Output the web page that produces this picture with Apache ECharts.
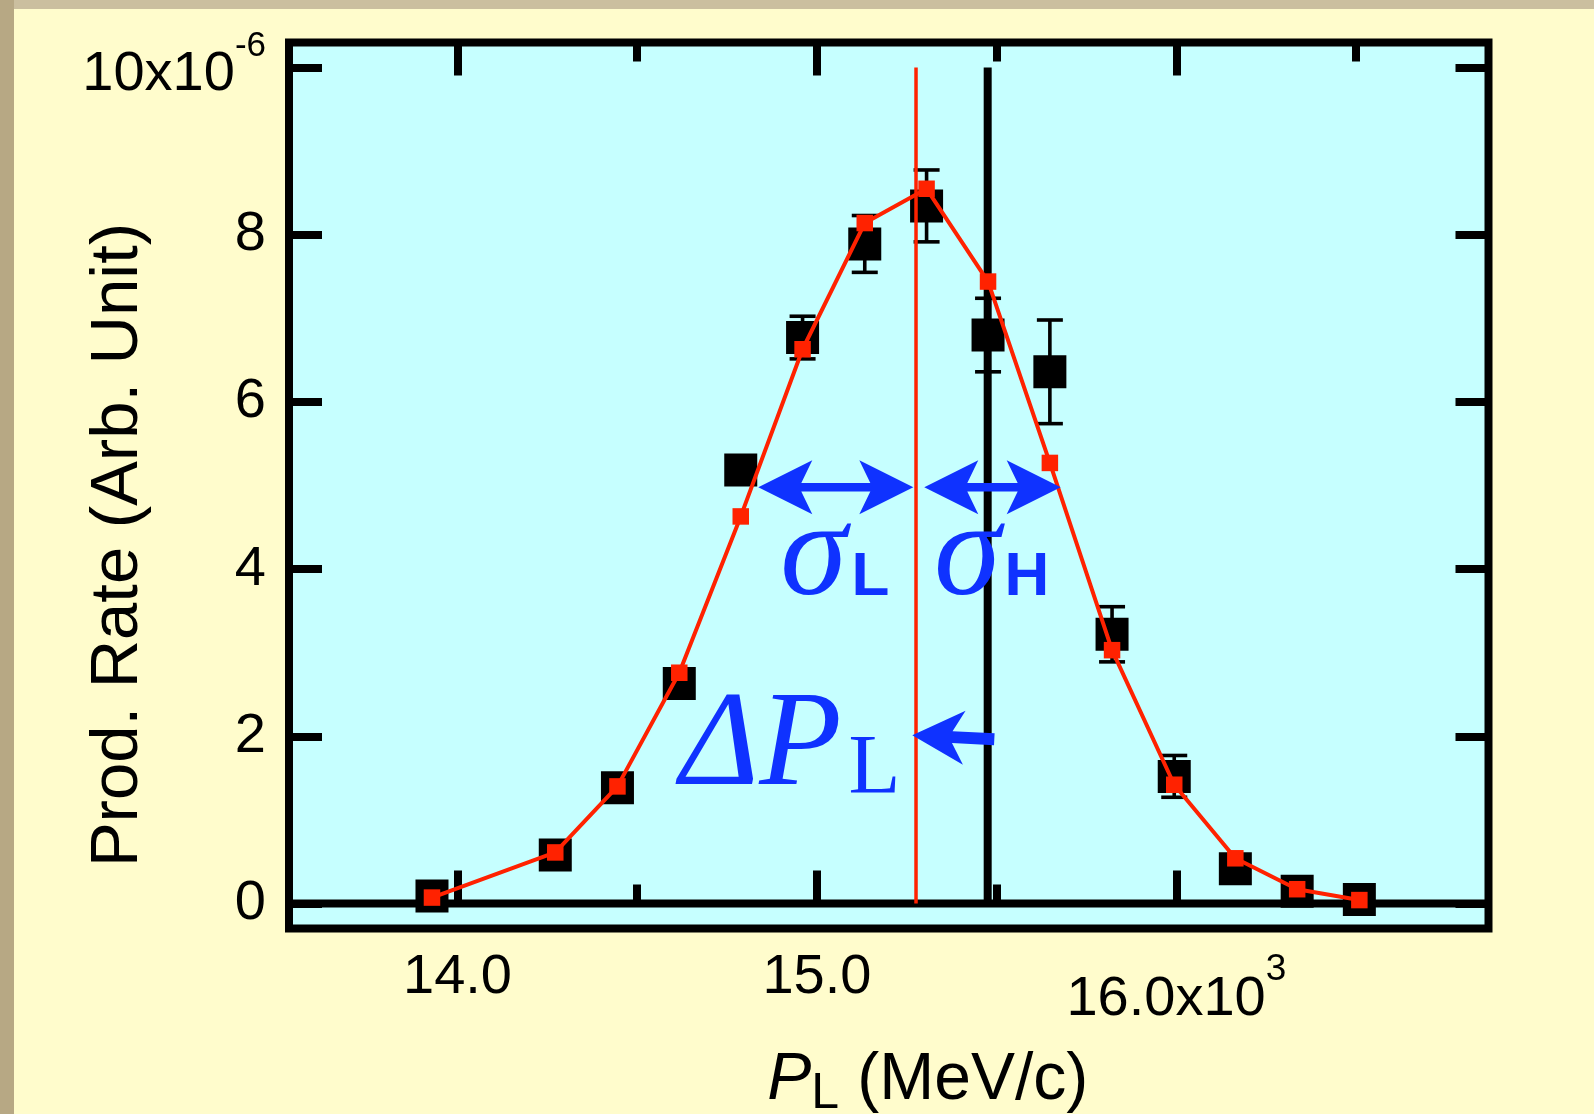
<!DOCTYPE html>
<html>
<head>
<meta charset="utf-8">
<title>Production rate vs longitudinal momentum</title>
<script src="https://cdn.jsdelivr.net/npm/echarts@6/dist/echarts.min.js"></script>
<style>
  html, body { margin: 0; padding: 0; background: #fffccc; }
  #chart { width: 1594px; height: 1114px; }
</style>
</head>
<body>
<div id="chart"></div>
<script>
// Longitudinal momentum of each bin (x10^3 MeV/c)
const momentum = [13.929, 14.272, 14.445, 14.617, 14.788, 14.960, 15.133, 15.305,
                  15.476, 15.648, 15.821, 15.994, 16.164, 16.336, 16.509];
// Measured production rate (x10^-6) and its uncertainty
const measuredRate  = [0.09, 0.58, 1.385, 2.63, 5.185, 6.77, 7.89, 8.345,
                       6.80, 6.36, 3.22, 1.52, 0.415, 0.146, 0.047];
const measuredError = [0.03, 0.06, 0.09, 0.12, 0.15, 0.255, 0.34, 0.43,
                       0.44, 0.62, 0.33, 0.25, 0.08, 0.05, 0.03];
// Calculated production rate (x10^-6)
const calculatedRate = [0.07, 0.61, 1.40, 2.76, 4.63, 6.63, 8.14, 8.55,
                        7.44, 5.27, 3.03, 1.42, 0.54, 0.17, 0.04];

// Peak of the calculated distribution and the central momentum
const peakMomentum = 15.2756;
const centralMomentum = 15.475;

// Axis ranges and ticks
const xRange = [13.5312, 16.8683];
const yRange = [-0.3, 10.3];
const xMajorTicks = [14, 15, 16];
const xMinorTicks = [14.5, 15.5, 16.5];
const yTicks = [0, 2, 4, 6, 8, 10];

// Widths sigma_L / sigma_H and shift Delta P_L (tail, tip, number of heads)
const arrowX1 = [14.8368, 15.2986, 15.4934];
const arrowY1 = [4.978, 4.978, 1.965];
const arrowX2 = [15.2681, 15.6781, 15.2653];
const arrowY2 = [4.978, 4.978, 2.013];
const arrowHeads = [2, 2, 1];

// Annotation symbols
const noteText = ['σ', 'L', 'σ', 'H', 'ΔP', 'L'];
const noteX = [14.8977, 15.0961, 15.3256, 15.5218, 14.619, 15.0877];
const noteY = [4.126, 3.896, 4.126, 3.896, 1.85, 1.594];
const noteKind = ['greek', 'subBold', 'greek', 'subBold', 'greek', 'subSerif'];

const SANS = "'Liberation Sans', Arial, Helvetica, sans-serif";
const SERIF = "'Liberation Serif', 'Times New Roman', Times, serif";
const RED = '#ff2200';
const BLUE = '#0f32ff';

const noteStyles = {
  greek:    { fontFamily: SERIF, fontStyle: 'italic', fontWeight: 'normal', fontSize: 135 },
  subBold:  { fontFamily: SANS,  fontStyle: 'normal', fontWeight: 'bold',   fontSize: 62 },
  subSerif: { fontFamily: SERIF, fontStyle: 'normal', fontWeight: 'normal', fontSize: 85 }
};

function tickAxis(position, values, length, extra) {
  const isX = position === 'top' || position === 'bottom';
  return Object.assign({
    type: 'value',
    position: position,
    min: isX ? xRange[0] : yRange[0],
    max: isX ? xRange[1] : yRange[1],
    axisLine: { show: false },
    splitLine: { show: false },
    axisTick: {
      show: true, inside: true, length: length, customValues: values,
      lineStyle: { color: '#000', width: 8 }
    },
    axisLabel: { show: false }
  }, extra || {});
}

// Build a filled arrow outline from tail a to tip b (pixel space)
function arrowPoints(a, b, heads, headLen, halfW, notch, shaftW) {
  const dx = b[0] - a[0], dy = b[1] - a[1];
  const len = Math.hypot(dx, dy);
  const ux = dx / len, uy = dy / len, nx = -uy, ny = ux;
  const P = (base, along, across) => [base[0] + ux * along + nx * across,
                                      base[1] + uy * along + ny * across];
  const s = shaftW / 2;
  const pts = [];
  if (heads === 2) {
    pts.push(a, P(a, headLen, halfW), P(a, headLen - notch, s));
  } else {
    pts.push(P(a, 0, s));
  }
  pts.push(P(b, -(headLen - notch), s), P(b, -headLen, halfW), b,
           P(b, -headLen, -halfW), P(b, -(headLen - notch), -s));
  if (heads === 2) {
    pts.push(P(a, headLen - notch, -s), P(a, headLen, -halfW));
  } else {
    pts.push(P(a, 0, -s));
  }
  return pts;
}

const chart = echarts.init(document.getElementById('chart'), null, { renderer: 'canvas' });

const option = {
  animation: false,
  backgroundColor: '#fffccc',
  graphic: [
    { type: 'rect', left: 0, top: 0, shape: { width: 1594, height: 9 },
      style: { fill: '#cbbf9f' }, silent: true },
    { type: 'rect', left: 0, top: 0, shape: { width: 14, height: 1114 },
      style: { fill: '#b7a884' }, silent: true }
  ],
  grid: {
    left: 289, right: 105.5, top: 42.5, bottom: 185.5,
    show: true, backgroundColor: '#c6ffff', borderColor: '#000', borderWidth: 8,
    containLabel: false, outerBoundsMode: 'none'
  },
  xAxis: [
    tickAxis('bottom', xMajorTicks, 33, {
      axisLabel: {
        show: true, customValues: xMajorTicks, margin: 21,
        color: '#000', fontFamily: SANS, fontSize: 56,
        formatter: v => v === 16 ? '{b|16.0x10}{sup|3}' : '{a|' + v.toFixed(1) + '}',
        rich: {
          a: { fontFamily: SANS, fontSize: 56, height: 56, lineHeight: 56, color: '#000' },
          b: { fontFamily: SANS, fontSize: 56, height: 56, lineHeight: 78, color: '#000', verticalAlign: 'bottom' },
          sup: { fontFamily: SANS, fontSize: 37, height: 40, lineHeight: 40, color: '#000', verticalAlign: 'top' }
        }
      },
      name: '{i|P}{s|L}{n| (MeV/c)}',
      nameLocation: 'middle',
      nameGap: 119,
      nameMoveOverlap: false,
      nameTextStyle: {
        color: '#000', fontFamily: SANS, fontSize: 66, padding: [0, 0, 0, 78],
        rich: {
          i: { fontFamily: SANS, fontStyle: 'italic', fontSize: 66, height: 66, lineHeight: 66, color: '#000', verticalAlign: 'top' },
          s: { fontFamily: SANS, fontSize: 50, height: 50, lineHeight: 50, color: '#000', verticalAlign: 'top', padding: [22, 0, 0, 0] },
          n: { fontFamily: SANS, fontSize: 66, height: 66, lineHeight: 66, color: '#000', verticalAlign: 'top' }
        }
      }
    }),
    tickAxis('bottom', xMinorTicks, 19),
    tickAxis('top', xMajorTicks, 33),
    tickAxis('top', xMinorTicks, 19)
  ],
  yAxis: [
    tickAxis('left', yTicks, 33, {
      axisLabel: {
        show: true, customValues: yTicks, margin: 23,
        color: '#000', fontFamily: SANS, fontSize: 56,
        formatter: v => v === 10 ? '{b|10x10}{sup|-6}' : '{a|' + v + '}',
        rich: {
          a: { fontFamily: SANS, fontSize: 56, height: 56, lineHeight: 56, color: '#000' },
          b: { fontFamily: SANS, fontSize: 56, height: 56, lineHeight: 69.6, color: '#000', verticalAlign: 'bottom' },
          sup: { fontFamily: SANS, fontSize: 35, height: 28, lineHeight: 28, color: '#000', verticalAlign: 'top' }
        }
      },
      name: 'Prod. Rate (Arb. Unit)',
      nameLocation: 'middle',
      nameRotate: 90,
      nameGap: 136.5,
      nameMoveOverlap: false,
      nameTextStyle: {
        color: '#000', fontFamily: SANS, fontSize: 67, lineHeight: 67, padding: [0, 119, 0, 0]
      }
    }),
    tickAxis('right', yTicks, 33)
  ],
  series: [
    {
      name: 'zero', type: 'line', z: 1, silent: true, symbol: 'none',
      data: [[xRange[0], 0], [xRange[1], 0]],
      lineStyle: { color: '#000', width: 8 }
    },
    {
      name: 'central momentum', type: 'line', z: 2, silent: true, symbol: 'none',
      data: [[centralMomentum, 0], [centralMomentum, 10]],
      lineStyle: { color: '#000', width: 8 }
    },
    {
      name: 'measured', type: 'scatter', z: 3, symbol: 'rect', symbolSize: 33,
      itemStyle: { color: '#000', opacity: 1 },
      data: momentum.map((m, i) => [m, measuredRate[i]])
    },
    {
      name: 'error', type: 'custom', z: 3, silent: true,
      data: momentum.map((m, i) => [m, measuredRate[i], measuredError[i]]),
      renderItem: function (params, api) {
        const x = api.value(0), y = api.value(1), e = api.value(2);
        const top = api.coord([x, y + e]);
        const bot = api.coord([x, y - e]);
        const hw = 13;
        const st = { stroke: '#000', lineWidth: 3.6 };
        return {
          type: 'group',
          children: [
            { type: 'line', shape: { x1: top[0], y1: top[1], x2: bot[0], y2: bot[1] }, style: st },
            { type: 'line', shape: { x1: top[0] - hw, y1: top[1], x2: top[0] + hw, y2: top[1] }, style: st },
            { type: 'line', shape: { x1: bot[0] - hw, y1: bot[1], x2: bot[0] + hw, y2: bot[1] }, style: st }
          ]
        };
      }
    },
    {
      name: 'peak', type: 'line', z: 4, silent: true, symbol: 'none',
      data: [[peakMomentum, 0], [peakMomentum, 10]],
      lineStyle: { color: RED, width: 3.5 }
    },
    {
      name: 'calculated', type: 'line', z: 5, symbol: 'rect', symbolSize: 16.5,
      showSymbol: true, showAllSymbol: true,
      lineStyle: { color: RED, width: 4 },
      itemStyle: { color: RED, opacity: 1 },
      data: momentum.map((m, i) => [m, calculatedRate[i]])
    },
    {
      name: 'arrows', type: 'custom', z: 6, silent: true,
      data: arrowX1.map((x, i) => [x, arrowY1[i], arrowX2[i], arrowY2[i], arrowHeads[i]]),
      renderItem: function (params, api) {
        const a = api.coord([api.value(0), api.value(1)]);
        const b = api.coord([api.value(2), api.value(3)]);
        const heads = api.value(4);
        const pts = heads === 2
          ? arrowPoints(a, b, 2, 54, 27, 11, 8.5)
          : arrowPoints(a, b, 1, 52, 27, 12, 12);
        return { type: 'polygon', shape: { points: pts }, style: { fill: BLUE } };
      }
    },
    {
      name: 'notes', type: 'custom', z: 7, silent: true,
      data: noteX.map((x, i) => [x, noteY[i], i]),
      renderItem: function (params, api) {
        const i = api.value(2);
        const p = api.coord([api.value(0), api.value(1)]);
        const fs = noteStyles[noteKind[i]];
        return {
          type: 'text', x: p[0], y: p[1],
          style: Object.assign({ text: noteText[i], fill: BLUE, align: 'left', verticalAlign: 'middle' }, fs)
        };
      }
    }
  ]
};

chart.setOption(option);
</script>
</body>
</html>
